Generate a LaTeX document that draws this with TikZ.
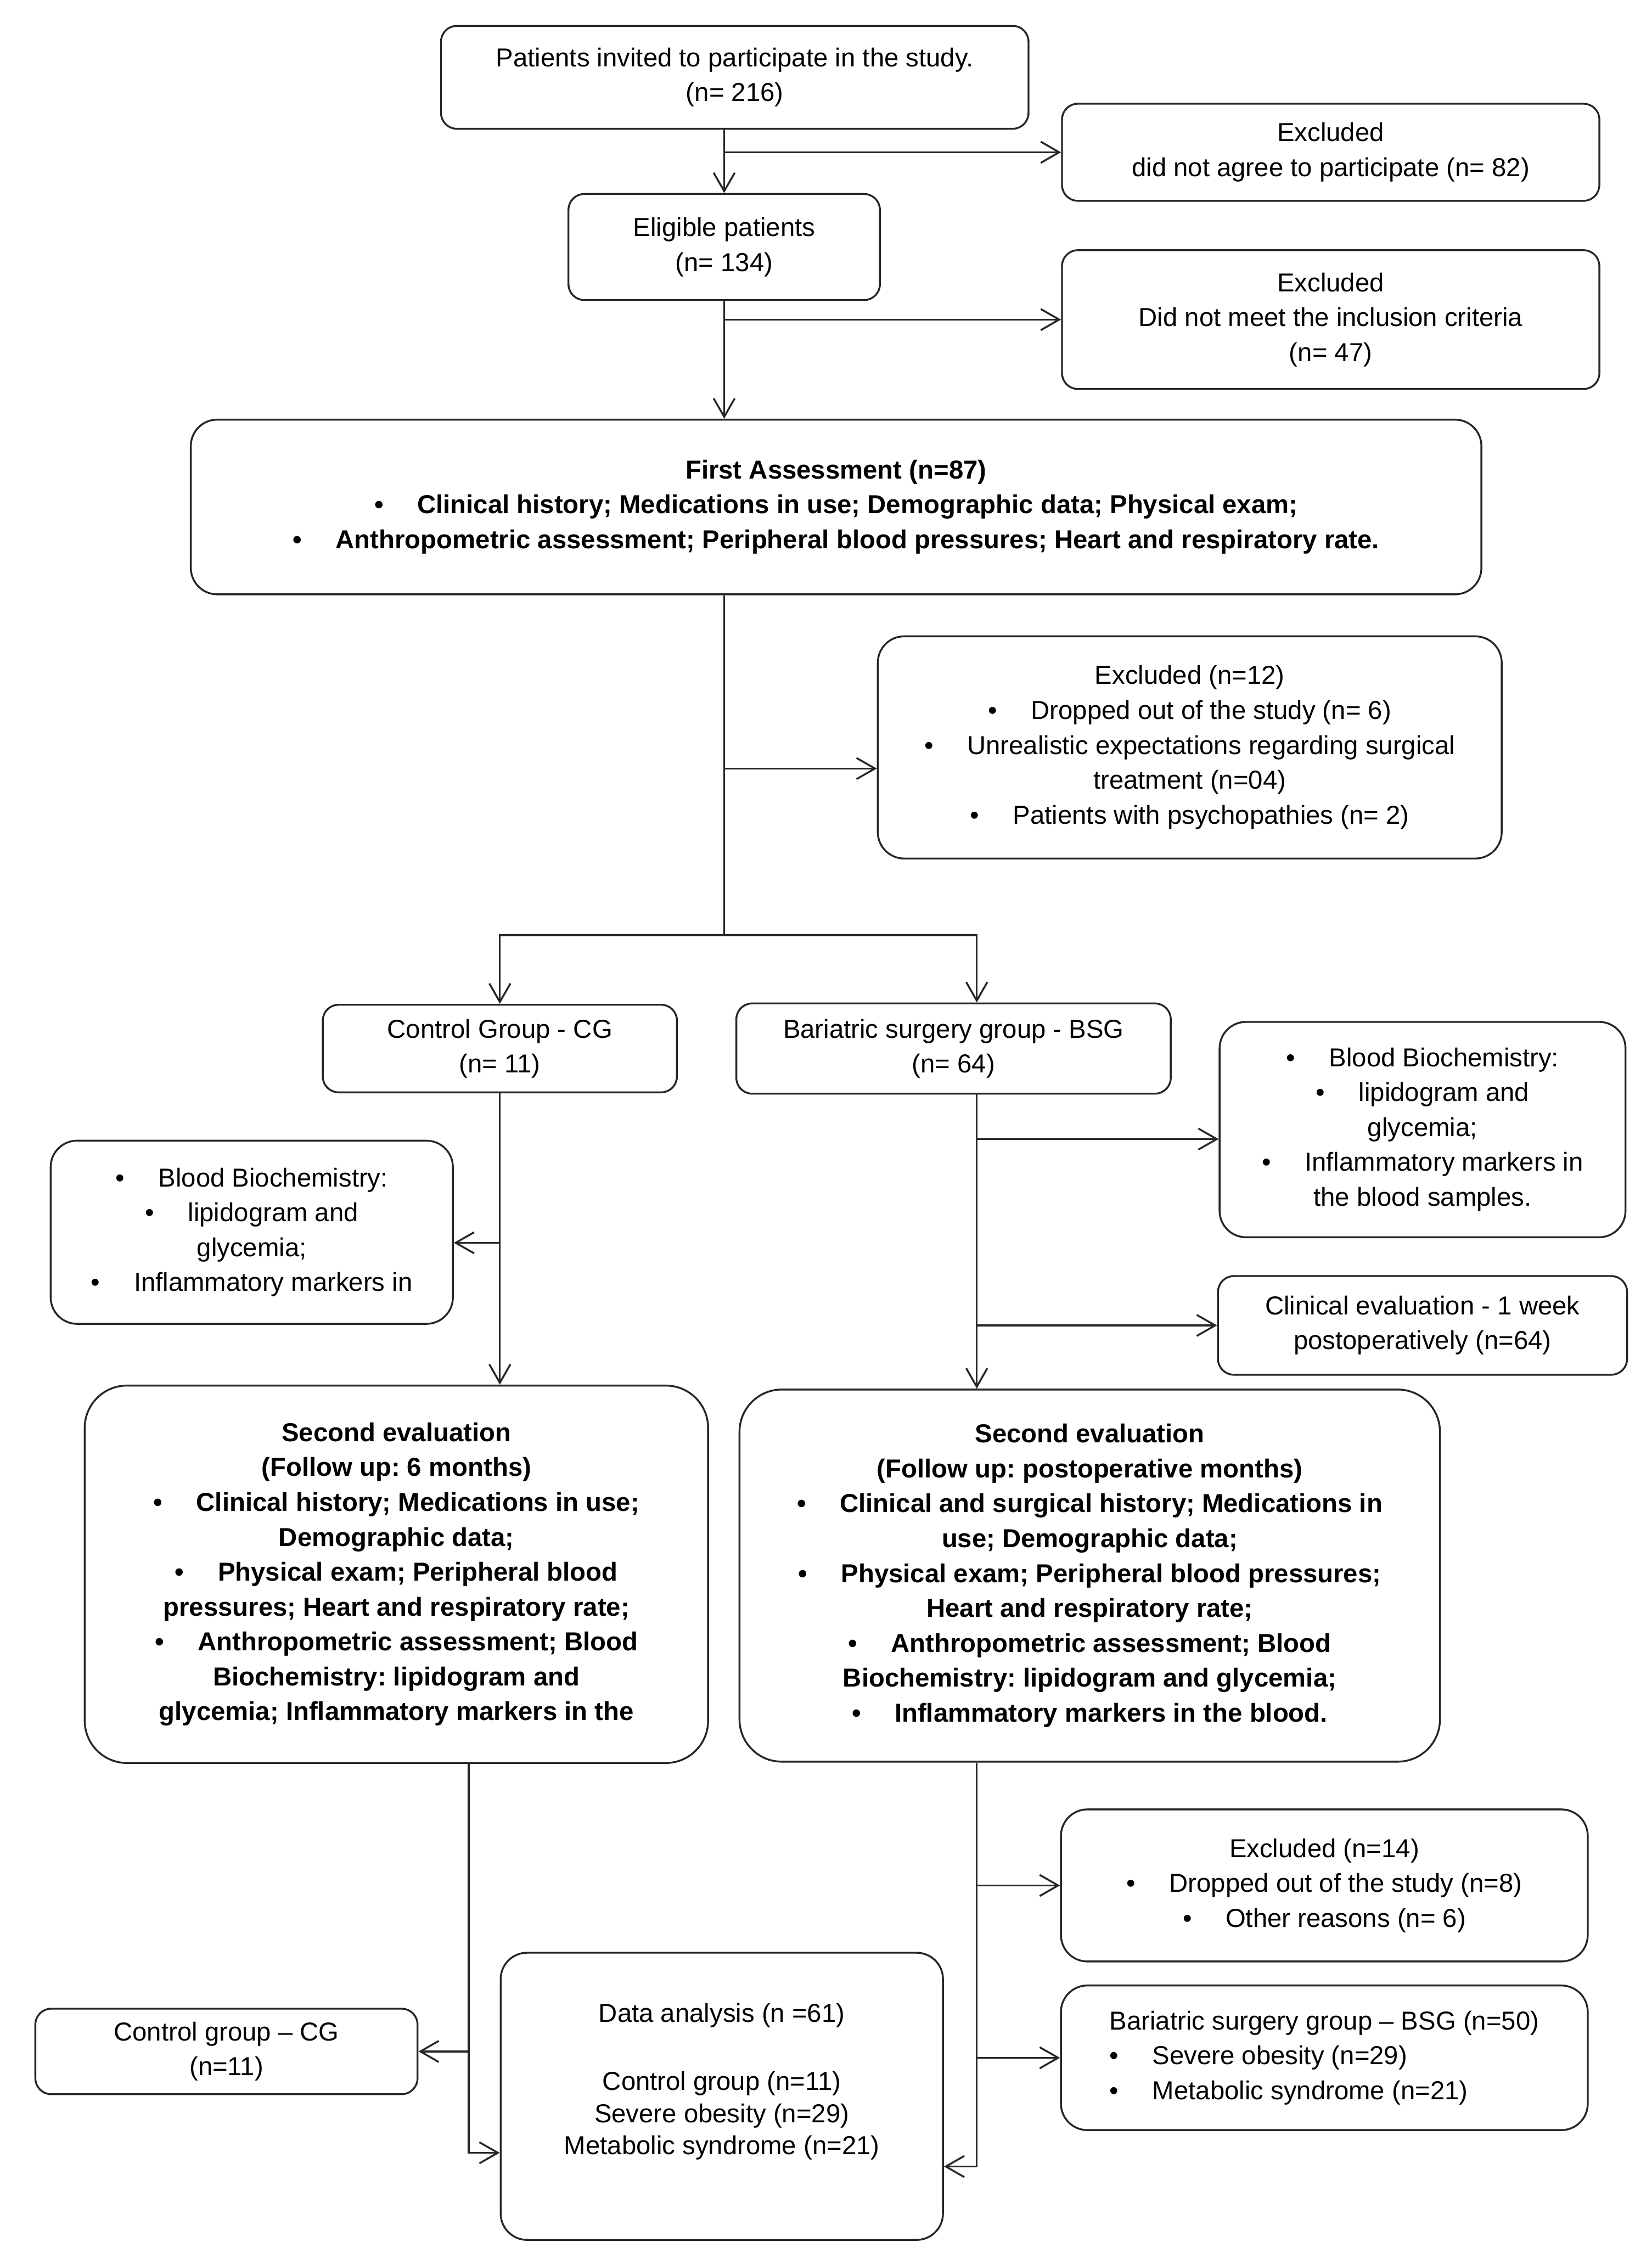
\documentclass[tikz,border=0pt]{standalone}
\usepackage{fontspec}
\setmainfont{Liberation Sans}
\usepackage{tikz}
\usetikzlibrary{arrows.meta,positioning,calc}
\frenchspacing
\newcommand{\boxfont}{\fontsize{14}{18.8}\selectfont}
\newcommand{\flowbullet}{\textbullet\hspace{1.3em}}
\tikzset{
  flowbox/.style={rectangle, draw=black!85, line width=1pt, fill=white, rounded corners=0.3cm,
    align=center, font=\boxfont, inner sep=4pt},
  widebox/.style={flowbox, rounded corners=0.5cm},
  evalbox/.style={flowbox, rounded corners=0.8cm, font=\boxfont\bfseries},
  flowarrow/.style={-{Straight Barb[length=3.5mm,width=4mm]}, draw=black!85, line width=1pt},
  flowline/.style={draw=black!85, line width=1pt},
}

\begin{document}
\begin{tikzpicture}
  \useasboundingbox (0,0) rectangle (31.29,-42.59);

  % Enrolment (main column with exclusions on the right)
  \node[flowbox, minimum width=11.13cm, minimum height=1.95cm] (invited) at (13.92,-1.465) {Patients invited to participate in the study.\\(n= 216)};
  \node[flowbox, minimum width=10.18cm, minimum height=1.84cm, right=0.6cm of invited, yshift=-1.42cm] (excluded1) {Excluded\\did not agree to participate (n= 82)};
  \node[flowbox, minimum width=5.9cm, minimum height=2.01cm, below=1.2cm of invited, xshift=-0.2cm] (eligible) {Eligible patients\\(n= 134)};
  \node[flowbox, minimum width=10.18cm, minimum height=2.63cm, below=0.9cm of excluded1] (excluded2) {Excluded\\Did not meet the inclusion criteria\\(n= 47)};
  \node[widebox, font=\boxfont\bfseries, minimum width=24.45cm, minimum height=3.31cm, below=2.23cm of eligible, xshift=2.12cm] (first) {First Assessment (n=87)\\\flowbullet Clinical history; Medications in use; Demographic data; Physical exam;\\\flowbullet Anthropometric assessment; Peripheral blood pressures; Heart and respiratory rate.};
  \node[widebox, minimum width=11.82cm, minimum height=4.21cm, below=0.76cm of first, xshift=6.7cm] (excluded3) {Excluded (n=12)\\\flowbullet Dropped out of the study (n= 6)\\\flowbullet Unrealistic expectations regarding surgical\\treatment (n=04)\\\flowbullet Patients with psychopathies (n= 2)};

  % Allocation
  \node[flowbox, minimum width=6.71cm, minimum height=1.66cm, below=7.74cm of first, xshift=-6.37cm] (cg) {Control Group - CG\\(n= 11)};
  \node[flowbox, minimum width=8.23cm, minimum height=1.71cm, right=1.09cm of cg] (bsg) {Bariatric surgery group - BSG\\(n= 64)};
  \node[widebox, minimum width=7.69cm, minimum height=4.08cm, right=0.89cm of bsg, yshift=-1.535cm] (bloodR) {\flowbullet Blood Biochemistry:\\\flowbullet lipidogram and\\glycemia;\\\flowbullet Inflammatory markers in\\the blood samples.};
  \node[flowbox, minimum width=7.75cm, minimum height=1.87cm, below=0.7cm of bloodR] (clinical) {Clinical evaluation - 1 week\\postoperatively (n=64)};
  \node[widebox, minimum width=7.62cm, minimum height=3.47cm, below=0.88cm of cg, xshift=-4.7cm] (bloodL) {\flowbullet Blood Biochemistry:\\\flowbullet lipidogram and\\glycemia;\\\flowbullet Inflammatory markers in};

  % Follow-up
  \node[evalbox, minimum width=11.81cm, minimum height=7.15cm, below=5.52cm of cg, xshift=-1.96cm] (secondL) {Second evaluation\\(Follow up: 6 months)\\\flowbullet Clinical history; Medications in use;\\Demographic data;\\\flowbullet Physical exam; Peripheral blood\\pressures; Heart and respiratory rate;\\\flowbullet Anthropometric assessment; Blood\\Biochemistry: lipidogram and\\glycemia; Inflammatory markers in the};
  \node[evalbox, minimum width=13.27cm, minimum height=7.05cm, below=5.57cm of bsg, xshift=2.58cm] (secondR) {Second evaluation\\(Follow up: postoperative months)\\\flowbullet Clinical and surgical history; Medications in\\use; Demographic data;\\\flowbullet Physical exam; Peripheral blood pressures;\\Heart and respiratory rate;\\\flowbullet Anthropometric assessment; Blood\\Biochemistry: lipidogram and glycemia;\\\flowbullet Inflammatory markers in the blood.};

  % Analysis
  \node[widebox, minimum width=9.98cm, minimum height=2.88cm, below=0.87cm of secondR, xshift=4.445cm] (excluded4) {Excluded (n=14)\\\flowbullet Dropped out of the study (n=8)\\\flowbullet Other reasons (n= 6)};
  \node[widebox, align=left, minimum width=9.98cm, minimum height=2.74cm, below=0.42cm of excluded4] (bsgfinal) {Bariatric surgery group -- BSG (n=50)\\\flowbullet Severe obesity (n=29)\\\flowbullet Metabolic syndrome (n=21)};
  \node[widebox, minimum width=8.38cm, minimum height=5.44cm, below=3.56cm of secondL, xshift=6.165cm] (analysis) {Data analysis (n =61)\\[18pt]Control group (n=11)\\[-1.5pt]Severe obesity (n=29)\\[-1.5pt]Metabolic syndrome (n=21)\\\mbox{}};
  \node[flowbox, minimum width=7.24cm, minimum height=1.62cm, left=1.54cm of analysis, yshift=0.85cm] (cgfinal) {Control group -- CG\\(n=11)};

  % Connectors
  \coordinate (trunk) at (invited.south -| eligible);
  \draw[flowarrow] (trunk) -- (eligible.north);
  \draw[flowarrow] (excluded1.west -| eligible) -- (excluded1.west);
  \draw[flowarrow] (eligible.south) -- (first.north -| eligible);
  \draw[flowarrow] (excluded2.west -| eligible) -- (excluded2.west);
  \coordinate (split) at ($(first.south -| eligible)+(0,-6.44)$);
  \draw[flowline] (first.south -| eligible) -- (split);
  \draw[flowarrow] ([yshift=-0.4cm]excluded3.west -| split) -- ([yshift=-0.4cm]excluded3.west);
  \coordinate (bsgtop) at ([xshift=0.44cm]bsg.north);
  \draw[flowarrow] (split) -| (cg.north);
  \draw[flowarrow] (split) -| (bsgtop);

  % control branch
  \draw[flowarrow] (cg.south) -- (secondL.north -| cg);
  \draw[flowarrow] ([yshift=-0.2cm]bloodL.east -| cg) -- ([yshift=-0.2cm]bloodL.east);

  % surgery branch
  \draw[flowarrow] (bsgtop |- bsg.south) -- (bsgtop |- secondR.north);
  \draw[flowarrow] ([yshift=-0.18cm]bloodR.west -| bsgtop) -- ([yshift=-0.18cm]bloodR.west);
  \draw[flowarrow] (clinical.west -| bsgtop) -- (clinical.west);

  % into data analysis
  \coordinate (cgout) at ([xshift=1.37cm]secondL.south);
  \draw[flowarrow] (cgout) |- ([yshift=-1.07cm]analysis.west);
  \draw[flowarrow] (cgfinal.east -| cgout) -- (cgfinal.east);
  \draw[flowarrow] (bsgtop |- secondR.south) |- ([yshift=-1.33cm]analysis.east);
  \draw[flowarrow] (excluded4.west -| bsgtop) -- (excluded4.west);
  \draw[flowarrow] (bsgfinal.west -| bsgtop) -- (bsgfinal.west);
\end{tikzpicture}
\end{document}
